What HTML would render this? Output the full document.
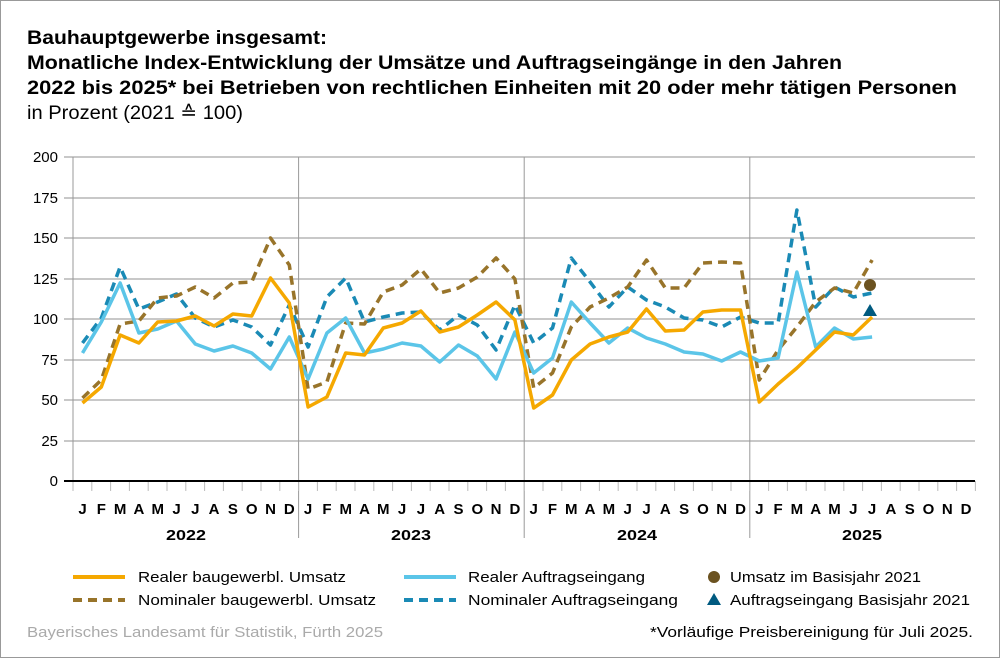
<!DOCTYPE html>
<html><head><meta charset="utf-8"><style>
html,body{margin:0;padding:0;background:#fff}
svg{display:block;font-family:"Liberation Sans",sans-serif}
</style></head><body>
<svg width="1000" height="658" viewBox="0 0 1000 658" xmlns="http://www.w3.org/2000/svg">
<rect x="0.5" y="0.5" width="999" height="657" fill="#fff" stroke="#999"/>
<g font-size="19" font-weight="bold" fill="#000" lengthAdjust="spacingAndGlyphs">
<text x="27" y="44" textLength="300" lengthAdjust="spacingAndGlyphs">Bauhauptgewerbe insgesamt:</text>
<text x="27" y="69" textLength="815" lengthAdjust="spacingAndGlyphs">Monatliche Index-Entwicklung der Umsätze und Auftragseingänge in den Jahren</text>
<text x="27" y="94" textLength="930" lengthAdjust="spacingAndGlyphs">2022 bis 2025* bei Betrieben von rechtlichen Einheiten mit 20 oder mehr tätigen Personen</text>
</g>
<text x="27" y="119" font-size="19" textLength="216" lengthAdjust="spacingAndGlyphs">in Prozent (2021 ≙ 100)</text>
<g stroke="#c8c8c8" stroke-width="2">
<line x1="64" y1="157" x2="975" y2="157"/><line x1="64" y1="198" x2="975" y2="198"/>
<line x1="64" y1="238" x2="975" y2="238"/><line x1="64" y1="279" x2="975" y2="279"/>
<line x1="64" y1="319" x2="975" y2="319"/><line x1="64" y1="360" x2="975" y2="360"/>
<line x1="64" y1="400" x2="975" y2="400"/><line x1="64" y1="441" x2="975" y2="441"/>
</g>
<g stroke="#999" stroke-width="1">
<line x1="73" y1="157" x2="73" y2="491"/>
<line x1="298.6" y1="157" x2="298.6" y2="538"/>
<line x1="524.2" y1="157" x2="524.2" y2="538"/>
<line x1="749.8" y1="157" x2="749.8" y2="538"/>
</g>
<g stroke="#bbb" stroke-width="1" id="ticks"></g>
<line x1="64" y1="481" x2="975" y2="481" stroke="#000" stroke-width="2"/>
<g font-size="15" text-anchor="end" fill="#000">
<text x="58" y="162">200</text><text x="58" y="203">175</text><text x="58" y="243">150</text>
<text x="58" y="284">125</text><text x="58" y="324">100</text><text x="58" y="365">75</text>
<text x="58" y="405">50</text><text x="58" y="446">25</text><text x="58" y="486">0</text>
</g>
<g id="months" font-size="15" font-weight="bold" text-anchor="middle"></g>
<g font-size="15" font-weight="bold" text-anchor="middle">
<text x="186" y="540" textLength="40" lengthAdjust="spacingAndGlyphs">2022</text><text x="411" y="540" textLength="40" lengthAdjust="spacingAndGlyphs">2023</text><text x="637" y="540" textLength="40" lengthAdjust="spacingAndGlyphs">2024</text><text x="862" y="540" textLength="40" lengthAdjust="spacingAndGlyphs">2025</text>
</g>
<g fill="none" stroke-width="3.5" stroke-linejoin="round">
<polyline id="bd" stroke="#1a8ab5" stroke-dasharray="9,6"/>
<polyline id="nd" stroke="#98742a" stroke-dasharray="9,6"/>
<polyline id="bs" stroke="#5bc5e8"/>
<polyline id="os" stroke="#f5a800"/>
</g>
<circle cx="870" cy="285" r="6" fill="#6b5220"/>
<polygon points="870,304 877,316 863,316" fill="#005a80"/>
<g font-size="15" fill="#000">
<line x1="73" y1="577" x2="125" y2="577" stroke="#f5a800" stroke-width="4"/>
<text x="138" y="582" textLength="208" lengthAdjust="spacingAndGlyphs">Realer baugewerbl. Umsatz</text>
<line x1="73" y1="600" x2="125" y2="600" stroke="#98742a" stroke-width="4" stroke-dasharray="9,6"/>
<text x="138" y="605" textLength="238" lengthAdjust="spacingAndGlyphs">Nominaler baugewerbl. Umsatz</text>
<line x1="404" y1="577" x2="456" y2="577" stroke="#5bc5e8" stroke-width="4"/>
<text x="468" y="582" textLength="177" lengthAdjust="spacingAndGlyphs">Realer Auftragseingang</text>
<line x1="404" y1="600" x2="456" y2="600" stroke="#1a8ab5" stroke-width="4" stroke-dasharray="9,6"/>
<text x="468" y="605" textLength="210" lengthAdjust="spacingAndGlyphs">Nominaler Auftragseingang</text>
<circle cx="714" cy="577" r="6" fill="#6b5220"/>
<text x="730" y="582" textLength="191" lengthAdjust="spacingAndGlyphs">Umsatz im Basisjahr 2021</text>
<polygon points="714,593 721,605 707,605" fill="#005a80"/>
<text x="730" y="605" textLength="240" lengthAdjust="spacingAndGlyphs">Auftragseingang Basisjahr 2021</text>
</g>
<text x="27" y="637" font-size="15" fill="#aaa" textLength="356" lengthAdjust="spacingAndGlyphs">Bayerisches Landesamt für Statistik, Fürth 2025</text>
<text x="650" y="637" font-size="15" fill="#000" textLength="323" lengthAdjust="spacingAndGlyphs">*Vorläufige Preisbereinigung für Juli 2025.</text>
<script>
var X=function(i){return 82.5+18.8*i};
function pts(a){return a.map(function(y,i){return X(i).toFixed(1)+","+y}).join(" ")}
document.getElementById("os").setAttribute("points",pts([403,387,335,343,322,321,316,326,314,316,278,303,407,397,353,355,328,323,311,332,327,315,302,320,408,395,360,344,337,332,309,331,330,312,310,310,402,384,368,350,332,335,317]));
document.getElementById("bs").setAttribute("points",pts([353,322,283,333,329,321,344,351,346,353,369,337,379,333,318,353,349,343,346,362,345,356,379,332,373,358,302,323,343,328,338,344,352,354,361,352,361,358,272,347,328,339,337]));
document.getElementById("nd").setAttribute("points",pts([398,380,324,321,298,296,287,298,283,282,238,265,389,382,323,324,292,285,269,293,288,277,258,279,388,373,327,307,298,287,260,288,288,263,262,263,380,350,327,302,288,293,260]));
document.getElementById("bd").setAttribute("points",pts([343,318,267,309,302,294,318,327,320,327,345,305,347,297,278,322,317,313,312,330,315,325,350,305,343,328,258,282,307,287,300,307,318,320,327,317,323,323,210,307,287,297,293]));
var m="JFMAMJJASOND",g=document.getElementById("months"),t=document.getElementById("ticks"),ns="http://www.w3.org/2000/svg";
for(var i=0;i<48;i++){var e=document.createElementNS(ns,"text");e.setAttribute("x",X(i));e.setAttribute("y",514);e.textContent=m[i%12];g.appendChild(e);}
for(var k=0;k<=48;k++){var l=document.createElementNS(ns,"line");var x=73+18.8*k;l.setAttribute("x1",x);l.setAttribute("x2",x);l.setAttribute("y1",481);l.setAttribute("y2",491);t.appendChild(l);}
</script>
</svg>
</body></html>
